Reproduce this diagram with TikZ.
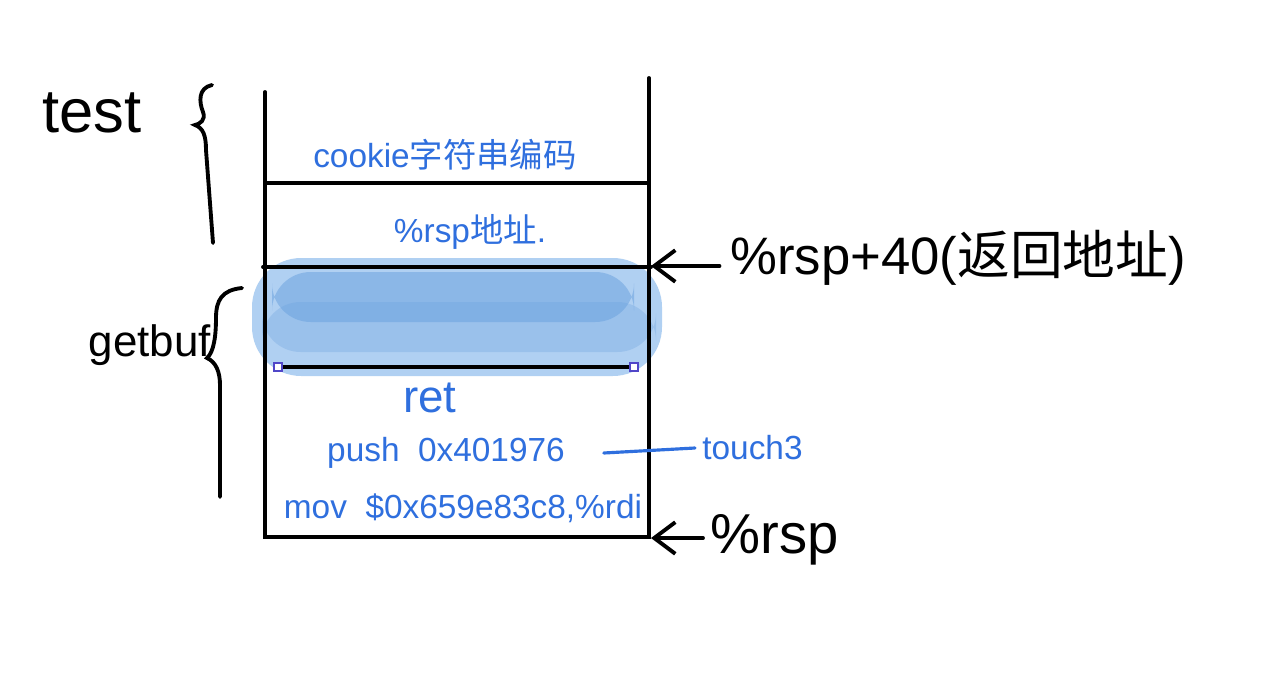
\documentclass[tikz,border=0pt]{standalone}
\usepackage{fontspec}
\setmainfont{Liberation Sans}
\newfontfamily\cjk{Noto Sans CJK SC}
\usetikzlibrary{arrows.meta}
\definecolor{inkblue}{RGB}{47,111,222}
\definecolor{washlight}{RGB}{176,208,242}
\definecolor{washdark}{RGB}{104,160,222}
\definecolor{handle}{RGB}{80,70,200}
\tikzset{
  ink/.style={line width=2.2pt, line cap=round},
  bluetxt/.style={text=inkblue, font=\fontsize{19}{22}\selectfont, inner sep=0pt},
  blacktxt/.style={font=\fontsize{30}{34}\selectfont, inner sep=0pt},
  pointer/.style={ink, -{Straight Barb[length=12pt, width=18pt]}},
  grip/.style={draw=handle, fill=white, line width=0.8pt, minimum size=4.5pt, inner sep=0pt}
}
\begin{document}
\begin{tikzpicture}[x=0.02cm, y=-0.02cm]
\fill[white] (0,0) rectangle (1263,676);
\useasboundingbox (0,0) rectangle (1263,676);
% painted-over area of getbuf
\fill[washlight, rounded corners=28] (252,258) rectangle (662,376);
\fill[washdark, opacity=.5, rounded corners=22] (272,272) rectangle (634,322);
\fill[washdark, opacity=.3, rounded corners=22] (262,302) rectangle (656,352);
% stack frame
\draw[ink] (265,92) -- (265,537) -- (649,537) -- (649,78);
\draw[ink] (265,183) -- (649,183);
\draw[ink] (263,267) -- (651,267);
% selected line
\draw[line width=1.8pt] (278,367) -- (634,367);
\node[grip] (gl) at (278,367) {};
\node[grip] (gr) at (634,367) {};
% contents
\node[bluetxt] (cookie) at (445,155) {cookie{\cjk 字符串编码}};
\node[bluetxt] (rspaddr) at (470,232) {\%rsp{\cjk 地址}.};
\node[bluetxt, font=\fontsize{26}{30}\selectfont] (ret) at (430,398) {ret};
\node[bluetxt] (push) at (446,453) {push\ \ 0x401976};
\node[bluetxt] (mov) at (463,508) {mov\ \ \$0x659e83c8,\%rdi};
\node[bluetxt, anchor=west] (touch) at (702,448) {touch3};
\draw[inkblue, line width=1.8pt, line cap=round] ([xshift=22]push.east) -- ([xshift=-4]touch.west);
% pointers
\node[blacktxt, anchor=west] (ret40) at (730,258) {\%rsp+40({\cjk 返回地址})};
\node[blacktxt, anchor=west, font=\fontsize{32}{36}\selectfont] (rsp) at (710,540) {\%rsp};
\coordinate (top40) at (651,266);
\coordinate (bottom) at (651,538);
\draw[pointer, shorten <=6pt] (ret40.west |- top40) -- (top40);
\draw[pointer, shorten <=4pt] (rsp.west |- bottom) -- (bottom);
% frames
\node[blacktxt, font=\fontsize{35}{40}\selectfont] (test) at (92,113) {test};
\node[blacktxt, font=\fontsize{25}{30}\selectfont] (getbuf) at (150,345) {getbuf};
\draw[ink] (212,85) .. controls (198,88) and (199,102) .. (203,112)
  .. controls (206,120) and (200,124) .. (195,125)
  .. controls (203,128) and (206,135) .. (206,150) -- (213,243);
\draw[ink] (242,288) .. controls (222,290) and (216,300) .. (216,318)
  .. controls (216,335) and (214,352) .. (207,358)
  .. controls (216,362) and (220,372) .. (220,385) -- (220,497);
\end{tikzpicture}
\end{document}
